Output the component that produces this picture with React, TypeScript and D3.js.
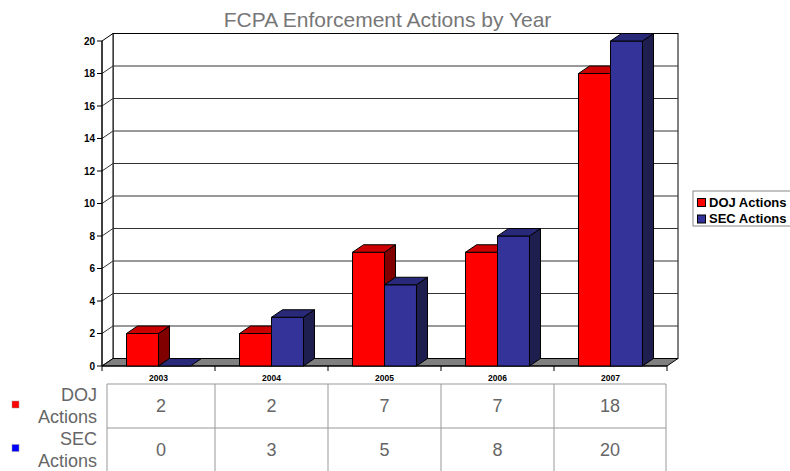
import React from 'react';
import * as d3 from 'd3';

const years = ['2003', '2004', '2005', '2006', '2007'];
const seriesNames = ['DOJ Actions', 'SEC Actions'];
const dojActions = [2, 2, 7, 7, 18];
const secActions = [0, 3, 5, 8, 20];
const yTicks = [0, 2, 4, 6, 8, 10, 12, 14, 16, 18, 20];

const W = 790;
const H = 471;
const DX = 11;
const DY = 7.5;
const FONT = '"Liberation Sans", Arial, sans-serif';

// face colours: front, top, side
const barColors = [
  { front: '#ff0000', top: '#cc0000', side: '#800000', key: '#ff0000' },
  { front: '#333399', top: '#29297a', side: '#1f1f4f', key: '#0000ff' },
];

const App: React.FC = () => {
  const x = d3.scaleBand<string>().domain(years).range([102, 667]);
  const y = d3.scaleLinear().domain([0, 20]).range([366, 41]);
  const inner = d3.scaleBand<number>().domain([0, 1]).range([0, x.bandwidth()]).paddingOuter(0.766);

  const values = [dojActions, secActions];
  const x0 = 102, x1 = 667;
  const y0 = y(0), yTop = y(20);

  const bar = (s: number, i: number) => {
    const v = values[s][i];
    const c = barColors[s];
    const bx = (x(years[i]) ?? 0) + (inner(s) ?? 0);
    const bw = inner.bandwidth();
    const by = y(v);
    const front = `M${bx},${by}H${bx + bw}V${y0}H${bx}Z`;
    const top = `M${bx},${by}L${bx + DX},${by - DY}H${bx + bw + DX}L${bx + bw},${by}Z`;
    const side = `M${bx + bw},${by}L${bx + bw + DX},${by - DY}V${y0 - DY}L${bx + bw},${y0}Z`;
    return (
      <g key={`${s}-${i}`} stroke="#000" strokeWidth={1} strokeLinejoin="round">
        {v > 0 && <path d={front} fill={c.front} />}
        {v > 0 && <path d={side} fill={c.side} />}
        <path d={top} fill={c.top} />
      </g>
    );
  };

  const cols = [107, ...years.slice(1).map(d => x(d) ?? 0), x1 - 1];
  const rowY = [384, 428, 472];

  return (
    <svg width={W} height={H} style={{ position: 'absolute', left: 0, top: 0, background: '#fff' }} fontFamily={FONT}>
      <text x={387.5} y={27} textAnchor="middle" fontSize={21} fill="#777">FCPA Enforcement Actions by Year</text>

      {/* back wall */}
      <rect x={x0 + DX} y={yTop - DY} width={x1 - x0} height={y0 - yTop} fill="#fff" stroke="#000" />
      {/* left side wall */}
      <path d={`M${x0},${yTop}L${x0 + DX},${yTop - DY}V${y0 - DY}L${x0},${y0}Z`} fill="#fff" stroke="#000" />
      {/* gridlines */}
      {yTicks.slice(1, -1).map(t => (
        <path key={t} d={`M${x0},${y(t)}L${x0 + DX},${y(t) - DY}H${x1 + DX}`} fill="none" stroke="#333" strokeWidth={1} />
      ))}
      {/* floor */}
      <path d={`M${x0},${y0}L${x0 + DX},${y0 - DY}H${x1 + DX}L${x1},${y0}Z`} fill="#808080" stroke="#000" />

      {/* y axis */}
      <line x1={x0} x2={x0} y1={yTop} y2={y0} stroke="#000" />
      {yTicks.map(t => (
        <g key={t}>
          <line x1={x0 - 5} x2={x0} y1={y(t)} y2={y(t)} stroke="#000" />
          <text x={95} y={y(t)} dy="0.35em" textAnchor="end" fontSize={10} fontWeight="bold">{t}</text>
        </g>
      ))}
      {/* x axis */}
      <line x1={x0} x2={x1} y1={y0} y2={y0} stroke="#000" />
      {[...years.map(d => x(d) ?? 0), x1].map((p, i) => (
        <line key={i} x1={p} x2={p} y1={y0} y2={y0 + 5} stroke="#000" />
      ))}
      {years.map(d => (
        <text key={d} x={(x(d) ?? 0) + x.bandwidth() / 2} y={381} textAnchor="middle" fontSize={8.5} fontWeight="bold">{d}</text>
      ))}

      {years.map((_, i) => [0, 1].map(s => bar(s, i)))}

      {/* legend */}
      <rect x={693} y={191} width={110} height={35} fill="#fff" stroke="#888" />
      {seriesNames.map((n, s) => (
        <g key={n}>
          <rect x={697.5} y={198.5 + s * 16.5} width={8} height={8} fill={barColors[s].front} stroke="#000" />
          <text x={709} y={206.5 + s * 16.5} fontSize={13} fontWeight="bold">{n}</text>
        </g>
      ))}

      {/* data table */}
      <g stroke="#999" strokeWidth={1}>
        {rowY.map(r => <line key={r} x1={cols[0]} x2={cols[cols.length - 1]} y1={r} y2={r} />)}
        {cols.map(c => <line key={c} x1={c} x2={c} y1={rowY[0]} y2={rowY[2]} />)}
      </g>
      {values.map((vals, s) => (
        <g key={s}>
          {vals.map((v, i) => (
            <text key={i} x={(cols[i] + cols[i + 1]) / 2} y={(rowY[s] + rowY[s + 1]) / 2} dy="0.35em" textAnchor="middle" fontSize={18} fill="#666">{v}</text>
          ))}
          <rect x={12} y={401 + s * 43.5} width={7} height={7} fill={barColors[s].key} stroke="#999" strokeWidth={0.5} />
          <text x={97} y={400.5 + s * 44} textAnchor="end" fontSize={18} fill="#666">{seriesNames[s].split(' ')[0]}</text>
          <text x={97} y={423 + s * 44} textAnchor="end" fontSize={18} fill="#666">{seriesNames[s].split(' ')[1]}</text>
        </g>
      ))}
    </svg>
  );
};

export default App;
